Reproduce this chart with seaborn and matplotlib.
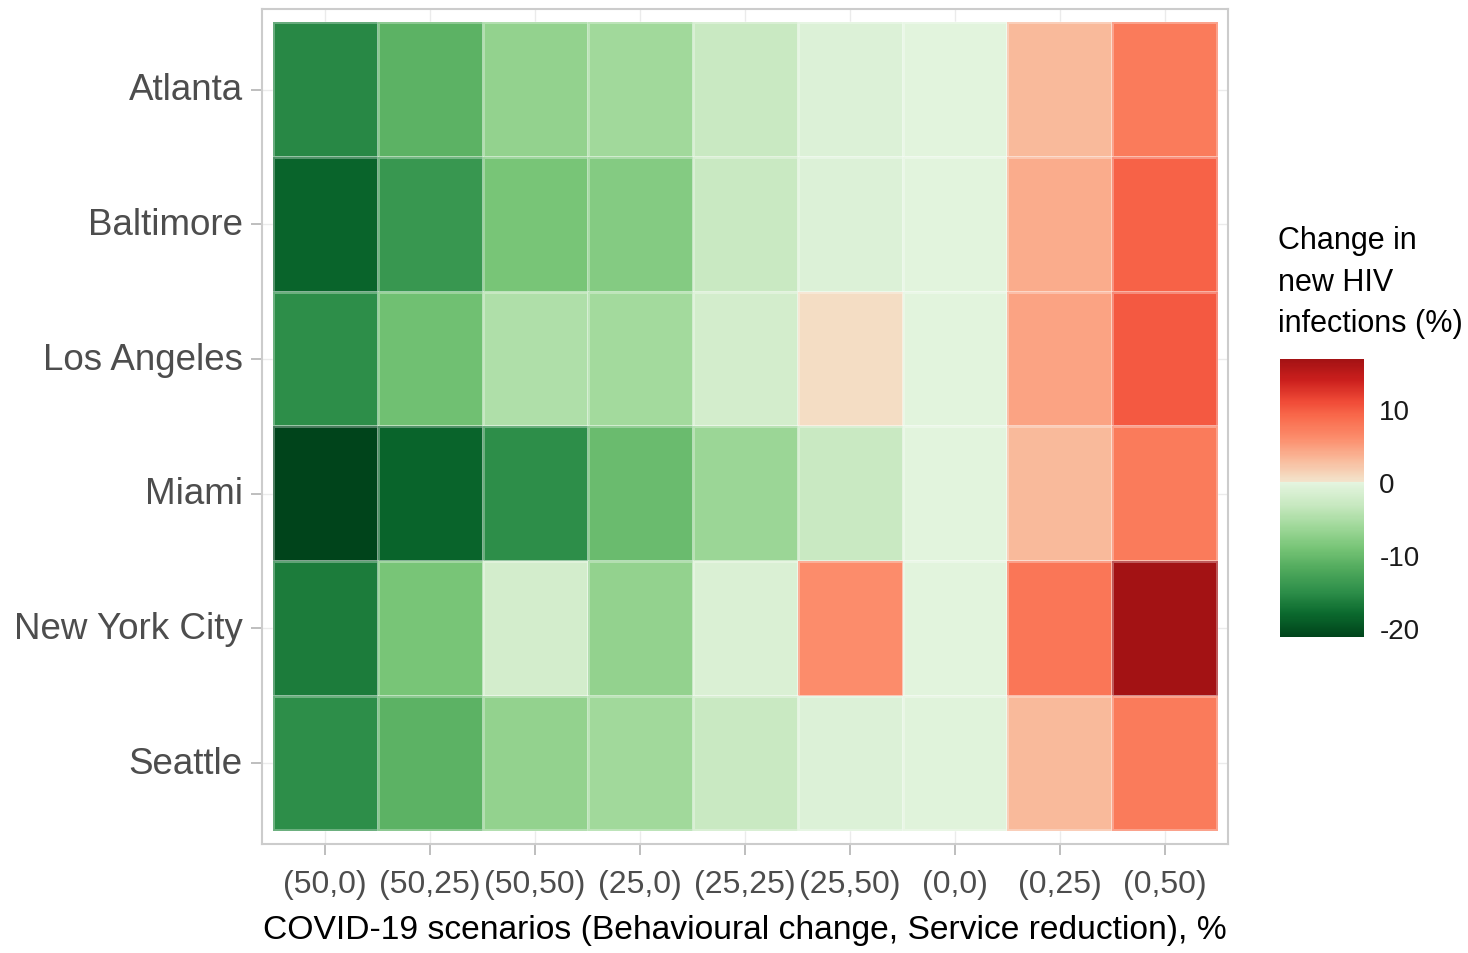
import numpy as np
import pandas as pd
import matplotlib
matplotlib.use("Agg")
import matplotlib.pyplot as plt
import seaborn as sns
from matplotlib.colors import LinearSegmentedColormap

# Cities (rows) and COVID-19 scenarios (columns)
cities = ["Atlanta", "Baltimore", "Los Angeles", "Miami", "New York City", "Seattle"]
scenarios = ["(50,0)", "(50,25)", "(50,50)", "(25,0)", "(25,25)",
             "(25,50)", "(0,0)", "(0,25)", "(0,50)"]

# Change in new HIV infections (%) per city and scenario
atlanta = [-15.5, -11.0, -7.0, -6.0, -3.0, -1.0, -0.3, 3.0, 7.5]
baltimore = [-18.5, -14.0, -9.0, -8.0, -3.0, -1.0, -0.3, 4.0, 9.5]
los_angeles = [-15.0, -9.5, -5.0, -5.8, -2.0, 0.5, -0.3, 4.5, 10.0]
miami = [-21.2, -18.5, -15.0, -10.0, -6.5, -3.0, -0.3, 3.0, 7.5]
new_york = [-16.5, -9.0, -2.0, -7.0, -1.3, 6.0, -0.3, 8.0, 16.8]
seattle = [-15.0, -11.0, -7.0, -6.0, -3.0, -1.0, -0.5, 3.0, 7.5]

colorbar_ticks = [-20, -10, 0, 10]

df = pd.DataFrame([atlanta, baltimore, los_angeles, miami, new_york, seattle],
                  index=cities, columns=scenarios)
vmin, vmax = df.values.min(), df.values.max()

# Diverging palette: greens below zero, reds above
stops = [(-21.2, "#00441b"), (-18.0, "#0b6a2e"), (-15.0, "#2e8f4a"),
         (-12.0, "#4fa95c"), (-9.0, "#78c577"), (-6.0, "#a1d99b"),
         (-3.0, "#c9e9c2"), (0.0, "#e5f5e0"), (0.05, "#f3e4cc"),
         (3.0, "#f9bb9c"), (6.0, "#fc8d6c"), (9.0, "#f96a4c"),
         (11.0, "#f04b37"), (14.0, "#cb1f1d"), (16.8, "#a31214")]
cmap = LinearSegmentedColormap.from_list(
    "green_red", [((v - vmin) / (vmax - vmin), c) for v, c in stops])

sns.set_style("white")
plt.rcParams["font.family"] = ["Liberation Sans", "DejaVu Sans"]
plt.rcParams["axes.unicode_minus"] = False

fig = plt.figure(figsize=(14.68, 9.54), dpi=100)
ax = fig.add_axes([0.1785, 0.1143, 0.658, 0.8752])
cax = fig.add_axes([0.872, 0.3312, 0.0572, 0.2914])

sns.heatmap(df, ax=ax, cbar_ax=cax, cmap=cmap, vmin=vmin, vmax=vmax,
            linewidths=1.0, linecolor=(1, 1, 1, 0.3),
            cbar_kws={"ticks": colorbar_ticks})

ax.set_xlim(-0.1, len(scenarios) + 0.1)
ax.set_ylim(len(cities) + 0.1, -0.1)
for s in ax.spines.values():
    s.set_visible(True)
    s.set_color("#cccccc")
    s.set_linewidth(1.5)
ax.set_axisbelow(True)
ax.grid(True, color="#ebebeb", lw=1)

ax.set_yticklabels(cities, rotation=0, fontsize=26.5, color="#4d4d4d")
ax.set_xticklabels(scenarios, rotation=0, fontsize=23, color="#4d4d4d")
ax.tick_params(axis="both", length=8, width=1.2, color="#b3b3b3", bottom=True, left=True)
ax.tick_params(axis="y", pad=6)
ax.tick_params(axis="x", pad=10)
ax.set_ylabel("")
ax.set_xlabel("COVID-19 scenarios (Behavioural change, Service reduction), %",
              fontsize=24.2, color="black", labelpad=11)

cbar = ax.collections[0].colorbar
cbar.outline.set_visible(False)
cax.tick_params(direction="in", left=True, right=True, color="white",
                length=10, width=1.5, labelsize=20, labelcolor="#1a1a1a", pad=11)

fig.text(0.8706, 0.763, "Change in\nnew HIV\ninfections (%)", fontsize=22,
         va="top", ha="left", color="black", linespacing=1.5)

fig.savefig("out.png", dpi=100)
